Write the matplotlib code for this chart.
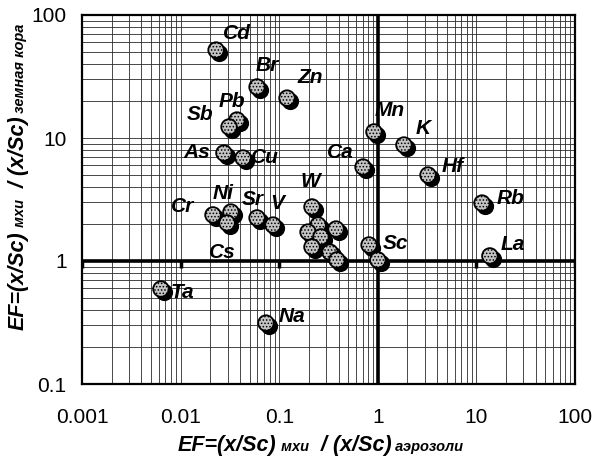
import matplotlib
matplotlib.use("Agg")
import matplotlib.pyplot as plt
from matplotlib import markers
import matplotlib.transforms as mtransforms

plt.rcParams['font.family'] = ['Liberation Sans', 'DejaVu Sans']

# ---- data ----
elements = ['Cd', 'Br', 'Zn', 'Pb', 'Sb', 'As', 'Cu', 'Mn', 'K', 'Ca', 'Hf', 'Rb',
            'W', 'Cr', 'Ni', 'Cs', 'Sr', 'V', 'Ta', 'Na', 'Sc', 'La']
ef_aerosol = [0.0229, 0.0596, 0.120, 0.0373, 0.0310, 0.0275, 0.0430, 0.914, 1.84, 0.708, 3.23, 11.4,
              0.215, 0.0213, 0.0324, 0.0296, 0.0596, 0.0865, 0.00632, 0.0734, 0.815, 13.7]
ef_crust = [51.9, 26.0, 21.1, 14.0, 12.3, 7.55, 6.88, 11.2, 8.77, 5.81, 5.00, 2.96,
            2.75, 2.37, 2.50, 2.04, 2.24, 1.96, 0.592, 0.313, 1.35, 1.10]
# unlabeled points of the cluster near (0.3, 1.5)
extra_aerosol = [0.248, 0.196, 0.377, 0.265, 0.215, 0.327, 0.385, 1.00]
extra_crust = [1.96, 1.72, 1.82, 1.57, 1.30, 1.18, 1.02, 1.02]

# label offsets (points) relative to each marker
label_dx = [15.1, 7.2, 16.6, -3.6, -20.9, -19.4, 15.8, 11.5, 13.7, -16.6, 18.0, 20.2,
            -1.4, -21.6, -5.8, -3.6, -2.9, 2.9, 15.1, 18.7, 18.7, 16.6]
label_dy = [12.2, 15.8, 15.1, 13.0, 8.6, 0.7, 0.7, 15.8, 12.2, 10.8, 5.8, 3.6,
            18.0, 5.8, 13.7, -21.6, 13.0, 15.8, -2.2, 5.0, 1.0, 7.9]

x_ticks = [0.001, 0.01, 0.1, 1, 10, 100]
x_ticklabels = ['0.001', '0.01', '0.1', '1', '10', '100']
y_ticks = [0.1, 1, 10, 100]
y_ticklabels = ['0.1', '1', '10', '100']

fig = plt.figure(figsize=(5.97, 4.63), dpi=100)
ax = fig.add_axes([82/597, 1-384/463, (575-82)/597, (384-15)/463])
ax.set_xscale('log')
ax.set_yscale('log')
ax.set_xlim(0.001, 100)
ax.set_ylim(0.1, 100)

ax.grid(True, which='both', color='#2a2a2a', linewidth=0.6)
ax.set_axisbelow(True)
for s in ax.spines.values():
    s.set_linewidth(1.6)
    s.set_color('black')

ax.set_xticks(x_ticks)
ax.set_xticklabels(x_ticklabels)
ax.set_yticks(y_ticks)
ax.set_yticklabels(y_ticklabels)
ax.tick_params(which='both', length=0)
ax.tick_params(axis='x', pad=17, labelsize=15)
ax.tick_params(axis='y', pad=11, labelsize=15)

ax.axhline(1, color='black', linewidth=2.6, zorder=2)
ax.axvline(1, color='black', linewidth=2.6, zorder=2)
ax.plot(x_ticks, [1]*len(x_ticks), linestyle='none', marker=markers.TICKDOWN,
        markersize=5, markeredgewidth=2.5, color='black', zorder=2)

all_x = list(ef_aerosol) + list(extra_aerosol)
all_y = list(ef_crust) + list(extra_crust)

shadow_tr = ax.transData + mtransforms.ScaledTranslation(2.2/72, -2.2/72, fig.dpi_scale_trans)
ax.scatter(all_x, all_y, s=125, c='black', edgecolors='black', linewidths=1.2,
           transform=shadow_tr, zorder=3)
plt.rcParams['hatch.color'] = '#8c8c8c'
plt.rcParams['hatch.linewidth'] = 0.7
ax.scatter(all_x, all_y, s=125, facecolors='#c4c4c4', edgecolors='black', linewidths=1.3,
           hatch='.....', zorder=4)

for name, x, y, dx, dy in zip(elements, ef_aerosol, ef_crust, label_dx, label_dy):
    ax.annotate(name, (x, y), xytext=(dx, dy), textcoords='offset points',
                ha='center', va='center', fontsize=15, fontweight='bold',
                fontstyle='italic', zorder=5)

# ---- composed axis labels ----
big = dict(fontsize=15.5, fontweight='bold', fontstyle='italic')
small = dict(fontsize=10.5, fontweight='bold', fontstyle='italic')
xpieces = [('EF=(x/Sc)', big), (' мхи', small), ('  / (x/Sc)', big), (' аэрозоли', small)]
ypieces = [('EF=(x/Sc)', big), (' мхи', small), ('  / (x/Sc)', big), (' земная кора', small)]

fig.canvas.draw()
renderer = fig.canvas.get_renderer()

def compose(pieces, start, base, vertical):
    texts = []
    for s, kw in pieces:
        if vertical:
            t = fig.text(0, 0, s, rotation=90, rotation_mode='anchor',
                         ha='left', va='baseline', transform=None, **kw)
        else:
            t = fig.text(0, 0, s, ha='left', va='baseline', transform=None, **kw)
        texts.append(t)
    lens = []
    for t in texts:
        bb = t.get_window_extent(renderer)
        lens.append(bb.height if vertical else bb.width)
    pos = start
    for t, L in zip(texts, lens):
        if vertical:
            t.set_position((base, pos))
        else:
            t.set_position((pos, base))
        pos += L

H = 463
compose(xpieces, start=178, base=H - 451, vertical=False)
compose(ypieces, start=H - 330, base=24, vertical=True)

fig.savefig('out.png', dpi=100)
